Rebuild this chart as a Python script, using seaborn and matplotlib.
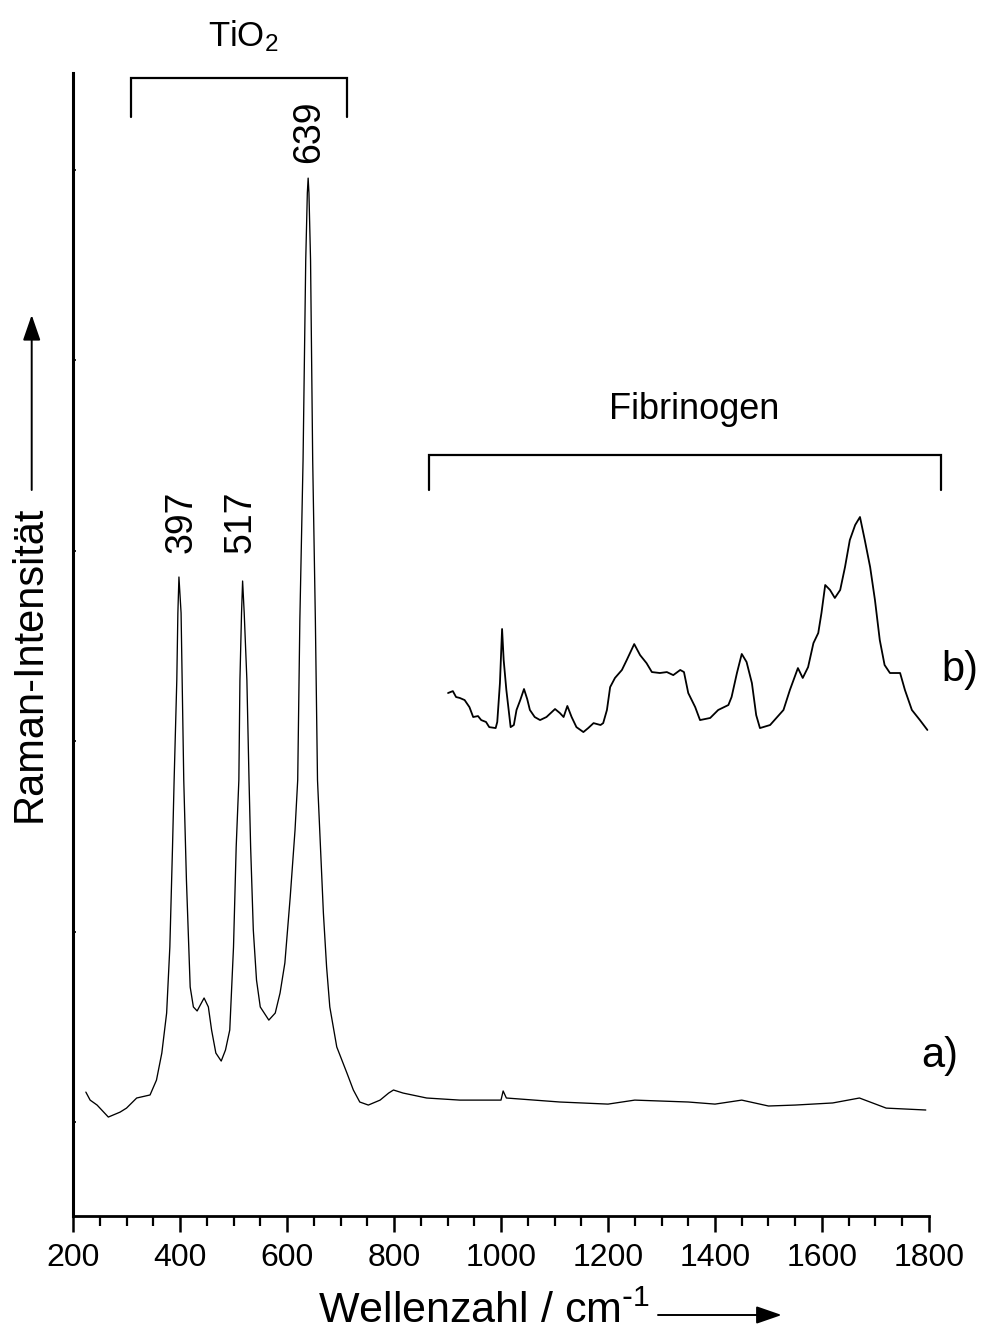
import numpy as np
import pandas as pd
import matplotlib
matplotlib.use("Agg")
import matplotlib.pyplot as plt
import seaborn as sns

# ---------------- data ----------------
# spectrum a) : TiO2 substrate, wavenumber (cm^-1) and intensity (arb. units)
wn_a = [224, 232, 245, 266, 288, 300, 319, 344, 356, 366, 375, 381, 386, 389, 394,
        396, 398, 402, 404, 407, 412, 419, 425, 432, 440, 445, 453, 459, 467, 477,
        485, 493, 500, 505, 510, 512, 515, 517, 520, 525, 529, 532, 537, 543, 550,
        566, 578, 587, 596, 606, 615, 620, 624, 630, 635, 638, 639.5, 641, 644, 648,
        653, 657, 668, 674, 680, 693, 712, 724, 736, 752, 774, 790, 799, 817, 861,
        923, 1000, 1004, 1010, 1110, 1200, 1250, 1300, 1350, 1400, 1450, 1500, 1550,
        1620, 1670, 1720, 1794]
int_a = [15.7, 11.5, 8.9, 2.6, 5.2, 7.3, 12.6, 14.2, 22.0, 36.2, 57.2, 91.9, 144.4,
         179.5, 232.0, 267.2, 286.1, 267.2, 232.0, 179.5, 127.0, 70.9, 60.4, 58.3,
         62.5, 65.1, 60.4, 48.3, 36.2, 32.0, 37.8, 48.3, 91.9, 144.4, 179.5, 232.0,
         267.2, 284.0, 267.2, 232.0, 179.5, 144.4, 100.8, 74.5, 60.4, 53.5, 57.2,
         67.7, 83.5, 118.1, 153.3, 179.5, 263.5, 347.5, 452.5, 487.7, 495.5, 487.7,
         452.5, 347.5, 263.5, 179.5, 109.7, 81.4, 60.4, 39.4, 25.7, 16.8, 10.5, 8.9,
         11.5, 15.2, 16.8, 15.2, 12.6, 11.5, 11.5, 16.3, 12.6, 10.5, 9.4, 11.5, 11.0,
         10.5, 9.4, 11.5, 8.4, 8.9, 10.0, 12.6, 7.3, 6.3]

# spectrum b) : fibrinogen, offset on the same axes
wn_b = [901, 910, 916, 923, 932, 941, 948, 957, 963, 972, 978, 990, 993, 998, 1002,
        1005, 1010, 1018, 1024, 1029, 1036, 1043, 1049, 1054, 1063, 1073, 1085, 1101,
        1110, 1117, 1124, 1132, 1141, 1154, 1163, 1173, 1186, 1191, 1198, 1204, 1213,
        1226, 1235, 1249, 1260, 1272, 1282, 1297, 1310, 1322, 1335, 1342, 1350, 1363,
        1372, 1391, 1406, 1425, 1431, 1441, 1450, 1459, 1469, 1477, 1484, 1503, 1528,
        1540, 1555, 1564, 1574, 1584, 1593, 1599, 1606, 1615, 1624, 1634, 1643, 1652,
        1662, 1671, 1680, 1690, 1699, 1708, 1717, 1727, 1746, 1755, 1768, 1783, 1797]
int_b = [225.2, 226.2, 223.1, 222.6, 221.5, 217.8, 212.6, 213.1, 211.0, 210.0, 207.3,
         206.8, 210.0, 230.4, 258.8, 242.5, 226.8, 207.3, 208.4, 216.3, 221.5, 227.3,
         222.0, 216.3, 212.6, 211.0, 212.6, 216.8, 214.7, 212.6, 218.4, 212.6, 207.3,
         204.7, 206.8, 209.4, 208.4, 209.4, 216.3, 228.3, 233.1, 237.3, 242.5, 250.9,
         245.1, 240.9, 236.2, 235.7, 236.2, 234.6, 237.3, 236.2, 225.2, 217.8, 211.0,
         212.1, 216.3, 218.9, 223.1, 235.7, 245.7, 241.5, 230.4, 213.6, 206.8, 208.4,
         216.3, 226.8, 238.3, 233.1, 238.8, 251.4, 256.7, 267.2, 281.9, 279.3, 275.1,
         279.3, 291.3, 305.5, 313.4, 317.6, 305.5, 291.3, 274.0, 253.0, 239.9, 235.7,
         235.7, 226.8, 216.3, 211.0, 205.8]

# annotations
peak_labels = ["397", "517", "639"]
peak_label_x = [403, 513, 641]
peak_label_y = [298.7, 298.7, 503.3]
x_ticks = [200, 400, 600, 800, 1000, 1200, 1400, 1600, 1800]
x_label = r"Wellenzahl / cm$^{\text{-}1}$"
y_label = "Raman-Intensität"

# ---------------- style ----------------
sns.set_theme(style="ticks")
plt.rcParams["font.family"] = ["Liberation Sans", "DejaVu Sans"]
plt.rcParams["mathtext.default"] = "regular"
plt.rcParams["text.color"] = "black"
plt.rcParams["axes.labelcolor"] = "black"
plt.rcParams["xtick.color"] = "black"
plt.rcParams["ytick.color"] = "black"
plt.rcParams["axes.edgecolor"] = "black"

fig = plt.figure(figsize=(9.84, 13.31), dpi=100)
ax = fig.add_axes([0.0742, 0.0866, 0.8699, 0.8583])

df_a = pd.DataFrame({"wn": wn_a, "I": int_a})
df_b = pd.DataFrame({"wn": wn_b, "I": int_b})
sns.lineplot(data=df_a, x="wn", y="I", ax=ax, color="black", linewidth=0.95,
             estimator=None)
sns.lineplot(data=df_b, x="wn", y="I", ax=ax, color="black", linewidth=1.3,
             estimator=None)

ax.set_xlim(200, 1800)
ax.set_ylim(-49.2, 550.5)
ax.set_xlabel("")
ax.set_ylabel("")

for side in ["top", "right"]:
    ax.spines[side].set_visible(False)
ax.spines["left"].set_linewidth(2.2)
ax.spines["bottom"].set_linewidth(2.0)

ax.set_xticks(x_ticks)
ax.set_xticklabels([str(t) for t in x_ticks])
ax.set_xticks(np.arange(250, 1800, 50), minor=True)
ax.tick_params(axis="x", which="major", direction="out", length=11.5, width=1.8,
               labelsize=23, pad=8, color="black", labelcolor="black")
ax.tick_params(axis="x", which="minor", direction="out", length=7, width=1.6,
               color="black")
ax.set_yticks([0, 100, 200, 300, 400, 500])
ax.tick_params(axis="y", which="major", direction="in", length=2.0, width=1.2,
               labelleft=False, color="black")

# brackets
bk = dict(color="black", linewidth=1.6, clip_on=False, solid_joinstyle="miter")
ax.plot([308, 308, 712, 712], [527.7, 547.9, 547.9, 527.7], **bk)
ax.plot([865, 865, 1822, 1822], [331.8, 350.1, 350.1, 331.8], **bk)
ax.text(518, 564.5, "TiO$_2$", ha="center", va="baseline", fontsize=25)
ax.text(1362, 369.0, "Fibrinogen", ha="center", va="baseline", fontsize=26)

for lab, xx, yy in zip(peak_labels, peak_label_x, peak_label_y):
    ax.text(xx, yy, lab, rotation=90, ha="center", va="bottom", fontsize=27)

ax.text(1785, 28.9, "a)", ha="left", va="baseline", fontsize=30)
ax.text(1824, 231.5, "b)", ha="left", va="baseline", fontsize=30)

# axis labels
ax.text(0.480, -0.0939, x_label, transform=ax.transAxes, ha="center",
        va="baseline", fontsize=31)
fig.text(30 / 984, 1 - 663.5 / 1331, y_label, rotation=90, ha="center",
         va="center", fontsize=30)

# arrows on the axis labels
ap = dict(arrowstyle="-|>,head_length=1.3,head_width=0.45", color="black",
          linewidth=1.4, shrinkA=0, shrinkB=0)
ax.annotate("", xy=(781.7 / 984, 1 - 1315 / 1331), xytext=(658 / 984, 1 - 1315 / 1331),
            xycoords="figure fraction", textcoords="figure fraction",
            arrowprops=ap, annotation_clip=False)
ax.annotate("", xy=(31.7 / 984, 1 - 315 / 1331), xytext=(31.7 / 984, 1 - 490 / 1331),
            xycoords="figure fraction", textcoords="figure fraction",
            arrowprops=ap, annotation_clip=False)

fig.savefig("out.png", dpi=100, facecolor="white")
